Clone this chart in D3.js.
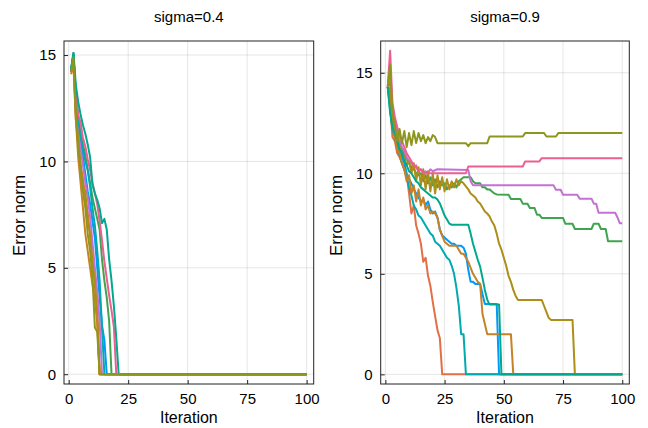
<!DOCTYPE html>
<html>
<head>
<meta charset="utf-8">
<script src="https://cdn.jsdelivr.net/npm/d3@7.9.0/dist/d3.min.js"></script>
<style>
  body { margin: 0; background: #fff; }
  svg text { font-family: "Liberation Sans", Arial, sans-serif; fill: #000; }
</style>
</head>
<body>
<svg id="chart" width="648" height="428"></svg>
<script>
// series colours, in drawing order
const palette = ["#009AFA", "#E36F47", "#3EA44E", "#C371D2", "#AC8E18",
                 "#00AAAE", "#ED5E93", "#C68225", "#00A98D", "#8E971D"];

const xTicks = [0, 25, 50, 75, 100];
const yTicks = [0, 5, 10, 15];
const titles = ["sigma=0.4", "sigma=0.9"];

// sigma=0.4 : [iteration, error norm]
const lowBlue = [[1,14.2],[2,15.0],[3,12.8],[4,11.8],[5,11.0],[6,10.2],[7,9.4],[8,8.6],[9,8.0],[10,7.2],[11,6.4],[12,5.0],[13,3.6],[14,2.3],[15,1.6],[16,0],[100,0]];
const lowOrange = [[1,14.2],[2,14.8],[3,12.0],[4,10.8],[5,9.8],[6,9.2],[7,8.3],[8,7.6],[9,6.5],[10,5.4],[11,4.2],[12,3.0],[13,0],[100,0]];
const lowGreen = [[1,14.3],[2,15.0],[3,13.2],[4,12.0],[5,11.4],[6,10.8],[7,10.3],[8,9.6],[9,9.0],[10,8.3],[11,7.8],[12,7.3],[13,6.8],[14,5.4],[15,4.4],[16,3.6],[17,2.5],[18,0],[100,0]];
const lowPurple = [[1,14.3],[2,15.0],[3,12.6],[4,11.5],[5,10.6],[6,9.8],[7,9.0],[8,8.3],[9,7.4],[10,6.2],[11,5.0],[12,3.9],[13,2.5],[14,0],[100,0]];
const lowMustard = [[1,14.3],[2,14.9],[3,12.4],[4,11.0],[5,9.9],[6,8.8],[7,8.6],[8,7.2],[9,6.6],[10,5.2],[11,4.4],[12,2.6],[13,0],[100,0]];
const lowTeal = [[1,14.3],[2,15.1],[3,13.0],[4,12.0],[5,11.2],[6,10.6],[7,10.0],[8,9.6],[9,8.8],[10,7.8],[11,7.0],[12,5.8],[13,4.4],[14,2.2],[15,0],[100,0]];
const lowPink = [[1,14.2],[2,14.9],[3,13.3],[4,12.2],[5,11.8],[6,11.1],[7,10.7],[8,10.1],[9,9.6],[10,9.0],[11,8.5],[12,8.0],[13,7.2],[14,6.3],[15,5.3],[16,4.5],[17,3.7],[18,3.0],[19,2.2],[20,0],[100,0]];
const lowBrown = [[1,14.1],[2,14.5],[3,12.0],[4,10.2],[5,9.0],[6,7.8],[7,6.6],[8,5.8],[9,5.0],[10,4.2],[11,3.5],[12,2.4],[13,0],[100,0]];
const lowSea = [[1,14.3],[2,15.1],[3,13.6],[4,12.8],[5,12.2],[6,11.7],[7,11.3],[8,10.8],[9,10.2],[10,8.9],[11,8.5],[12,8.2],[13,7.8],[14,7.1],[15,7.3],[16,6.8],[17,5.4],[18,4.4],[19,3.2],[20,1.7],[21,0],[100,0]];
const lowOlive = [[1,14.2],[2,14.9],[3,12.2],[4,10.8],[5,9.6],[6,8.6],[7,7.8],[8,6.6],[9,5.8],[10,4.6],[11,2.2],[12,2.0],[13,0],[100,0]];

// sigma=0.9 : [iteration, error norm]
const highBlue = [[1,14.3],[2,13.8],[3,12.6],[4,12.0],[5,11.5],[6,11.2],[7,10.8],[8,10.5],[9,10.0],[10,9.7],[11,9.5],[12,9.2],[13,9.0],[14,8.8],[15,8.6],[16,8.7],[17,8.4],[18,8.6],[19,8.2],[20,8.0],[21,8.1],[22,7.8],[23,7.2],[24,6.9],[25,6.8],[26,6.7],[27,6.6],[28,6.5],[29,6.5],[30,6.4],[32,6.4],[33,6.3],[34,6.0],[35,5.2],[36,4.6],[37,4.6],[38,4.5],[40,4.5],[41,4.0],[42,3.5],[47,3.5],[48,0],[100,0]];
const highOrange = [[1,14.3],[2,13.4],[3,11.8],[4,11.6],[5,11.0],[6,10.8],[7,10.5],[8,10.2],[9,9.9],[10,9.0],[11,8.0],[12,8.4],[13,7.4],[14,7.0],[15,6.5],[16,5.6],[17,5.8],[18,4.9],[19,4.4],[20,3.6],[21,2.9],[22,2.2],[23,1.8],[24,0],[100,0]];
const highGreen = [[1,14.3],[2,14.6],[3,13.0],[4,12.4],[5,12.0],[6,11.6],[7,11.2],[8,10.9],[9,10.7],[10,10.5],[11,10.3],[12,10.2],[13,10.0],[14,9.9],[15,10.0],[16,9.6],[17,9.9],[18,9.5],[19,9.8],[20,9.4],[21,9.7],[22,9.3],[23,9.6],[24,9.4],[25,9.5],[26,9.2],[27,9.4],[28,9.3],[29,9.5],[30,9.3],[31,9.6],[32,9.7],[33,9.8],[36,9.8],[37,9.6],[38,9.5],[40,9.5],[41,9.3],[42,9.3],[43,9.2],[44,9.2],[45,9.1],[46,9.0],[47,8.95],[52,8.93],[53,8.72],[57,8.72],[58,8.49],[60,8.49],[61,8.27],[63,8.27],[64,7.94],[65,7.94],[66,7.78],[75,7.78],[76,7.49],[79,7.49],[80,7.23],[87,7.23],[88,7.49],[90,7.49],[91,7.23],[93,7.23],[94,6.62],[100,6.62]];
const highPurple = [[1,14.3],[2,14.9],[3,13.2],[4,12.6],[5,12.0],[6,11.6],[7,11.3],[8,11.1],[9,10.8],[10,10.6],[11,10.5],[12,10.3],[13,10.4],[14,10.1],[15,10.2],[16,10.0],[17,10.1],[18,10.0],[19,10.2],[20,10.1],[22,10.2],[35,10.17],[36,9.6],[37,9.4],[71,9.4],[72,9.18],[74,9.18],[75,8.93],[81,8.93],[82,8.74],[87,8.74],[88,8.49],[89,8.49],[90,8.04],[97,8.04],[98,7.8],[99,7.51],[100,7.51]];
const highMustard = [[1,14.3],[2,14.2],[3,13.0],[4,12.2],[5,11.8],[6,11.3],[7,11.0],[8,10.8],[9,10.4],[10,10.6],[11,10.0],[12,10.5],[13,9.6],[14,10.3],[15,9.4],[16,10.2],[17,9.2],[18,10.1],[19,9.1],[20,10.0],[21,9.0],[22,9.9],[23,9.2],[24,9.8],[25,9.1],[26,9.7],[27,9.2],[28,9.6],[29,9.3],[30,9.7],[31,9.4],[32,9.6],[33,9.5],[34,9.35],[35,9.2],[36,9.0],[37,8.9],[38,8.8],[39,8.6],[40,8.5],[41,8.3],[42,8.1],[43,8.0],[44,7.86],[45,7.6],[46,7.4],[47,7.0],[48,6.5],[49,6.2],[50,5.8],[51,5.4],[52,4.9],[53,4.6],[54,4.2],[55,3.9],[56,3.7],[66,3.7],[67,3.4],[68,3.1],[69,2.8],[70,2.7],[79,2.7],[80,0],[100,0]];
const highTeal = [[1,14.3],[2,13.2],[3,12.2],[4,11.8],[5,11.3],[6,10.9],[7,10.5],[8,10.2],[9,9.8],[10,9.3],[11,8.9],[12,8.4],[13,8.2],[14,7.9],[15,7.8],[16,7.6],[17,7.4],[18,7.2],[19,7.0],[20,6.9],[21,6.6],[22,6.5],[23,6.4],[24,6.2],[25,6.0],[26,5.8],[27,5.7],[28,5.4],[29,5.0],[30,4.3],[31,3.4],[32,2.0],[33,2.0],[34,0],[100,0]];
const highPink = [[1,14.3],[2,16.1],[3,13.5],[4,12.8],[5,12.3],[6,11.9],[7,11.6],[8,11.3],[9,11.0],[10,10.8],[11,10.6],[12,10.4],[13,10.3],[14,10.1],[15,10.2],[16,10.0],[34,10.0],[35,10.34],[58,10.34],[59,10.59],[65,10.59],[66,10.75],[100,10.75]];
const highBrown = [[1,14.3],[2,13.6],[3,12.4],[4,11.8],[5,11.2],[6,11.0],[7,10.5],[8,10.2],[9,9.6],[10,9.9],[11,9.0],[12,9.4],[13,8.6],[14,9.2],[15,8.4],[16,8.8],[17,8.2],[18,8.4],[19,8.0],[20,8.1],[21,8.0],[22,7.8],[23,7.2],[24,6.9],[25,6.6],[26,6.5],[27,6.4],[30,6.4],[31,6.2],[32,6.0],[33,6.0],[34,5.8],[35,5.6],[36,5.3],[37,5.0],[38,4.8],[39,4.6],[40,4.5],[41,3.0],[42,2.5],[43,2.0],[53,2.0],[54,0],[100,0]];
const highSea = [[1,14.3],[2,13.0],[3,12.3],[4,12.0],[5,11.6],[6,11.2],[7,11.0],[8,10.6],[9,10.4],[10,10.1],[11,10.0],[12,9.8],[13,9.6],[14,9.5],[15,9.3],[16,9.2],[17,9.1],[18,9.0],[19,8.9],[20,8.8],[21,8.8],[22,8.7],[23,8.5],[24,8.2],[25,7.9],[26,7.7],[27,7.5],[28,7.44],[35,7.44],[36,7.0],[37,6.5],[38,6.1],[39,5.7],[40,5.36],[41,4.8],[42,4.2],[43,3.72],[44,3.47],[48,3.47],[49,0],[100,0]];
const highOlive = [[1,14.3],[2,15.4],[3,13.0],[4,12.4],[5,11.6],[6,12.2],[7,11.5],[8,12.1],[9,11.3],[10,12.0],[11,11.4],[12,12.1],[13,11.5],[14,12.0],[15,11.6],[16,11.9],[17,11.5],[18,11.8],[19,11.6],[20,11.9],[21,11.8],[22,11.5],[34,11.5],[35,11.35],[36,11.5],[43,11.5],[44,11.83],[58,11.83],[59,12.0],[67,12.0],[68,11.83],[72,11.83],[73,12.0],[100,12.0]];

const lowSeries = [lowBlue, lowOrange, lowGreen, lowPurple, lowMustard, lowTeal, lowPink, lowBrown, lowSea, lowOlive];
const highSeries = [highBlue, highOrange, highGreen, highPurple, highMustard, highTeal, highPink, highBrown, highSea, highOlive];

// panel frames (pixels)
const panels = [
  { left: 64, right: 313.7, top: 41, bottom: 384, yMax: 15.66, yMin: -0.46, series: lowSeries, title: titles[0] },
  { left: 380.7, right: 629.3, top: 41, bottom: 384, yMax: 16.58, yMin: -0.48, series: highSeries, title: titles[1] },
];

const svg = d3.select("#chart");

panels.forEach(p => {
  const x = d3.scaleLinear().domain([-1.97, 102.97]).range([p.left, p.right]);
  const y = d3.scaleLinear().domain([p.yMin, p.yMax]).range([p.bottom, p.top]);
  const g = svg.append("g");

  // grid
  g.append("g").selectAll("line").data(xTicks).join("line")
    .attr("x1", d => x(d)).attr("x2", d => x(d))
    .attr("y1", p.top).attr("y2", p.bottom)
    .attr("stroke", "#000").attr("stroke-opacity", 0.1).attr("stroke-width", 1);
  g.append("g").selectAll("line").data(yTicks).join("line")
    .attr("y1", d => y(d)).attr("y2", d => y(d))
    .attr("x1", p.left).attr("x2", p.right)
    .attr("stroke", "#000").attr("stroke-opacity", 0.1).attr("stroke-width", 1);

  // lines
  const line = d3.line().x(d => x(d[0])).y(d => y(d[1]));
  g.append("g").selectAll("path").data(p.series).join("path")
    .attr("d", line)
    .attr("fill", "none")
    .attr("stroke", (d, i) => palette[i])
    .attr("stroke-width", 2)
    .attr("stroke-linejoin", "round");

  // axes with inward ticks
  g.append("g")
    .attr("transform", `translate(0,${p.bottom})`)
    .call(d3.axisBottom(x).tickValues(xTicks).tickSize(-4).tickPadding(9))
    .call(a => a.select(".domain").remove())
    .call(a => a.selectAll("line").attr("stroke", "#222"))
    .call(a => a.selectAll("text").attr("font-size", 15).attr("font-family", null));
  g.append("g")
    .attr("transform", `translate(${p.left},0)`)
    .call(d3.axisLeft(y).tickValues(yTicks).tickSize(-4).tickPadding(8))
    .call(a => a.select(".domain").remove())
    .call(a => a.selectAll("line").attr("stroke", "#222"))
    .call(a => a.selectAll("text").attr("font-size", 15).attr("font-family", null));

  // frame
  g.append("rect")
    .attr("x", p.left).attr("y", p.top)
    .attr("width", p.right - p.left).attr("height", p.bottom - p.top)
    .attr("fill", "none").attr("stroke", "#222").attr("stroke-width", 1);

  // labels
  const cx = (p.left + p.right) / 2;
  g.append("text").attr("x", cx).attr("y", 22)
    .attr("text-anchor", "middle").attr("font-size", 15).text(p.title);
  g.append("text").attr("x", cx).attr("y", 423)
    .attr("text-anchor", "middle").attr("font-size", 16).text("Iteration");
  g.append("text")
    .attr("transform", `translate(${p.left - 39},${(p.top + p.bottom) / 2 + 3}) rotate(-90)`)
    .attr("text-anchor", "middle").attr("font-size", 17).text("Error norm");
});
</script>
</body>
</html>
